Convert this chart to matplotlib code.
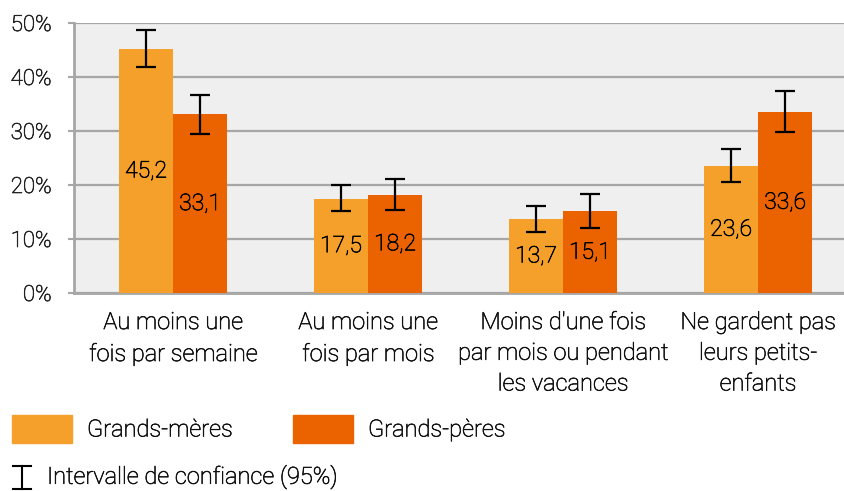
import numpy as np
import matplotlib
matplotlib.use("Agg")
import matplotlib.pyplot as plt
import matplotlib.patheffects as pe
from matplotlib.patches import Rectangle
from matplotlib.lines import Line2D

plt.rcParams['font.family'] = ['Roboto', 'DejaVu Sans']
plt.rcParams['font.weight'] = 'light'

# donnees
categories = ["Au moins une\nfois par semaine", "Au moins une\nfois par mois",
              "Moins d'une fois\npar mois ou pendant\nles vacances",
              "Ne gardent pas\nleurs petits-\nenfants"]
grands_meres = [45.2, 17.5, 13.7, 23.6]
grands_peres = [33.1, 18.2, 15.1, 33.6]
# bornes de l'intervalle de confiance (95%)
gm_bas = [41.9, 15.1, 11.3, 20.6]
gm_haut = [48.7, 20.0, 16.1, 26.7]
gp_bas = [29.5, 15.3, 12.0, 29.8]
gp_haut = [36.7, 21.1, 18.3, 37.5]
yticks = [0, 10, 20, 30, 40, 50]

c_gm = "#F4A02A"
c_gp = "#EB6300"
gris = "#A6A6A6"
texte = "#111111"

def epais(couleur):
    # trait un peu plus gras que la graisse light
    return [pe.withStroke(linewidth=0.45, foreground=couleur)]

fig = plt.figure(figsize=(8.45, 4.91), dpi=100)
ax = fig.add_axes([74/845, 1-293/491, 1-74/845, (293-23)/491])
ax.set_facecolor("#EFEFEF")

x = np.arange(len(categories))
w = 0.277

gm = np.array(grands_meres)
gp = np.array(grands_peres)
err_gm = [gm - np.array(gm_bas), np.array(gm_haut) - gm]
err_gp = [gp - np.array(gp_bas), np.array(gp_haut) - gp]

ax.bar(x - w/2, gm, w, color=c_gm, zorder=3)
ax.bar(x + w/2, gp, w, color=c_gp, zorder=3)
ax.errorbar(x - w/2, gm, yerr=err_gm, fmt='none', ecolor='black', elinewidth=1.6,
            capsize=7.5, capthick=1.6, zorder=4)
ax.errorbar(x + w/2, gp, yerr=err_gp, fmt='none', ecolor='black', elinewidth=1.6,
            capsize=7.5, capthick=1.6, zorder=4)

for i in range(len(categories)):
    ax.text(x[i] - w/2, gm[i]/2, f"{gm[i]:.1f}".replace('.', ','), ha='center', va='center',
            fontsize=16.5, color='#000000', zorder=5, path_effects=epais('#000000'))
    ax.text(x[i] + w/2, gp[i]/2, f"{gp[i]:.1f}".replace('.', ','), ha='center', va='center',
            fontsize=16.5, color='#000000', zorder=5, path_effects=epais('#000000'))

ax.set_ylim(0, 50)
ax.set_xlim(-0.508, 3.446)
ax.set_yticks(yticks)
ax.set_yticklabels([f"{v}%" for v in yticks], fontsize=16, color='#222222')
ax.yaxis.grid(True, color=gris, linewidth=1.6, zorder=1)
ax.set_axisbelow(True)
ax.tick_params(axis='y', length=4, width=1.5, color=gris, pad=12)
ax.set_xticks(x)
ax.set_xticklabels(categories, fontsize=17, color=texte, linespacing=1.43)
ax.tick_params(axis='x', length=0, pad=13)
for s in ['top', 'right']:
    ax.spines[s].set_visible(False)
for s in ['left', 'bottom']:
    ax.spines[s].set_color(gris)
    ax.spines[s].set_linewidth(2)
for t in ax.get_xticklabels():
    t.set_path_effects(epais(texte))
for t in ax.get_yticklabels():
    t.set_path_effects(epais('#222222'))

# legende
H = 491.0
fig.patches.append(Rectangle((12/845, 1-443/H), 60/845, 28/H, transform=fig.transFigure,
                             color=c_gm))
fig.text(87/845, 1-430/H, "Grands-mères", fontsize=17, color=texte, va='center',
         path_effects=epais(texte))
fig.patches.append(Rectangle((293/845, 1-443/H), 60/845, 28/H, transform=fig.transFigure,
                             color=c_gp))
fig.text(368/845, 1-430/H, "Grands-pères", fontsize=17, color=texte, va='center',
         path_effects=epais(texte))

# icone intervalle
xi = 22/845
for seg in [([xi, xi], [1-466/H, 1-489/H]),
            ([13/845, 31/845], [1-466/H, 1-466/H]),
            ([13/845, 31/845], [1-489/H, 1-489/H])]:
    fig.lines.append(Line2D(seg[0], seg[1], transform=fig.transFigure, color='black', linewidth=1.5))
fig.text(47/845, 1-477/H, "Intervalle de confiance (95%)", fontsize=17, color=texte, va='center',
         path_effects=epais(texte))

fig.savefig("out.png", dpi=100)
